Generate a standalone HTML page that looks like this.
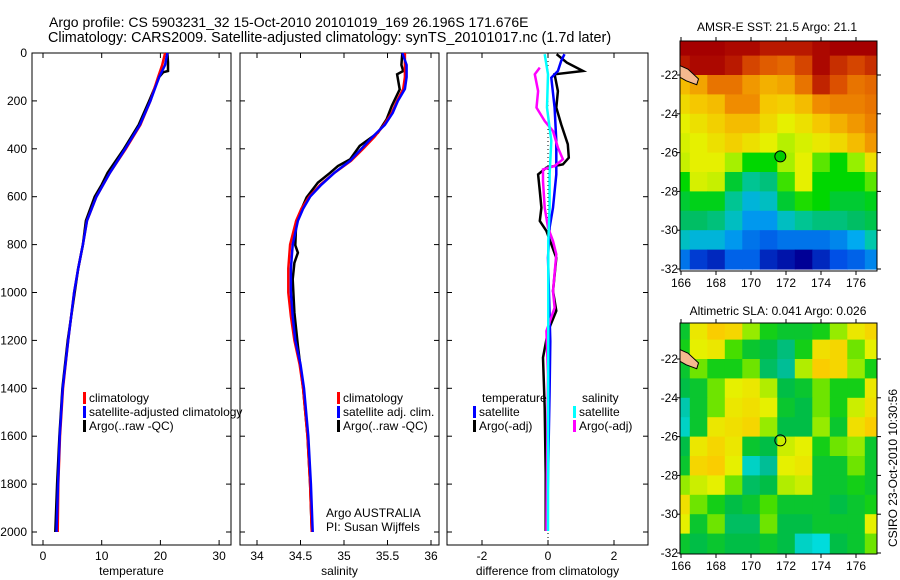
<!DOCTYPE html>
<html><head><meta charset="utf-8"><style>
html,body{margin:0;padding:0;background:#fff;}
svg{display:block;font-family:"Liberation Sans",sans-serif;}
</style></head><body>
<svg id="fig" width="900" height="580" viewBox="0 0 900 580">
<defs>
<clipPath id="clipMap1"><rect x="680" y="41" width="197" height="230"/></clipPath>
<clipPath id="clipMap2"><rect x="680" y="323" width="197" height="231"/></clipPath>
</defs>
<text x="49" y="27" font-size="14">Argo profile: CS 5903231_32 15-Oct-2010 20101019_169 26.196S 171.676E</text>
<text x="48" y="42" font-size="14.4">Climatology: CARS2009. Satellite-adjusted climatology: synTS_20101017.nc (1.7d later)</text>
<text x="777" y="31" font-size="12" text-anchor="middle">AMSR-E SST: 21.5 Argo: 21.1</text>
<text x="778" y="315" font-size="12" text-anchor="middle">Altimetric SLA: 0.041 Argo: 0.026</text>
<text x="0" y="0" font-size="12" text-anchor="middle" transform="translate(897,468) rotate(-90)">CSIRO 23-Oct-2010 10:30:56</text>
<g id="layer"></g>
</svg>
<script>
// ---- profile data ----
const depthT = [0,50,100,200,300,400,500,600,700,800,900,1000,1200,1400,1600,1800,2000];
const tempClim = [20.8,20.3,19.6,18.3,16.6,14.1,11.4,9.1,7.5,6.8,6.0,5.3,4.3,3.4,2.9,2.6,2.5];
const tempSat = [21.2,20.8,19.8,18.3,16.5,14.0,11.4,9.1,7.5,6.8,6.0,5.3,4.3,3.35,2.85,2.55,2.3];
const depthTArgo = [0,40,75,80,100,200,300,400,500,550,600,700,800,900,1000,1200,1400,1600,1800,2000];
const tempArgo = [21.2,21.3,21.3,20.5,19.8,18.1,16.3,13.8,11.0,10.0,8.8,7.3,6.8,6.0,5.4,4.2,3.3,2.8,2.4,2.1];
const depthS = [0,50,100,150,200,250,300,350,400,450,500,550,600,650,700,800,900,1000,1100,1200,1300,1400,1600,1800,2000];
const salClim = [35.70,35.70,35.70,35.68,35.61,35.55,35.46,35.35,35.22,35.08,34.89,34.73,34.60,34.51,34.45,34.38,34.36,34.36,34.39,34.43,34.49,34.53,34.58,34.61,34.63];
const salSat = [35.67,35.72,35.72,35.70,35.62,35.56,35.47,35.33,35.20,35.07,34.89,34.74,34.61,34.53,34.47,34.41,34.39,34.39,34.41,34.44,34.50,34.54,34.59,34.62,34.64];
const depthSArgo = [0,50,75,89,152,221,277,333,388,444,472,500,541,603,653,703,803,834,876,945,1084,1223,1400,1600,1800,2000];
const salArgo = [35.67,35.66,35.68,35.61,35.64,35.55,35.49,35.39,35.18,35.07,34.93,34.84,34.70,34.57,34.51,34.45,34.44,34.47,34.43,34.41,34.43,34.47,34.53,34.58,34.61,34.63];
const depthDTArgo = [5,40,75,89,159,228,298,381,437,465,479,507,576,646,701,743,855,994,1077,1161,1272,1481,1759,1996];
const diffTArgo = [0.26,0.57,1.06,0.2,0.30,0.25,0.40,0.6,0.63,0.45,-0.05,-0.30,-0.25,-0.20,-0.25,-0.05,0.25,0.15,0.25,0,-0.15,-0.1,-0.07,-0.07];
const depthDTSat = [5,33,75,103,228,367,507,646,729,855,1203,1412,1996];
const diffTSat = [0.5,0.4,0.3,0.1,0.2,0.25,0.25,0.15,0.05,0,0.07,0.05,-0.03];
const depthDSSat = [5,89,228,367,507,646,785,1064,1996];
const diffSSat = [-0.1,0,-0.03,0.1,0.05,0.05,0.01,0.01,0];
const depthDSArgo = [61,89,159,228,284,326,395,444,472,486,535,646,729,785,841,994,1064,1161,1342,1996];
const diffSArgo = [-0.25,-0.4,-0.3,-0.35,-0.1,0.15,0.3,0.45,0.2,-0.15,-0.15,-0.1,0,0.15,0.25,0.15,0.2,-0.05,0,-0.05];
const depthTicks = [0,200,400,600,800,1000,1200,1400,1600,1800,2000];
const tempTicks = [0,10,20,30];
const salTicks = [34,34.5,35,35.5,36];
const salTickLabels = ["34","34.5","35","35.5","36"];
const diffTicks = [-2,0,2];
// ---- map data (1-degree cells, rows lat -20..-32, cols lon 166..177) ----
const mapLons = [166,167,168,169,170,171,172,173,174,175,176,177];
const mapLats = [-20.5,-21.5,-22.5,-23.5,-24.5,-25.5,-26.5,-27.5,-28.5,-29.5,-30.5,-31.5];
const sstGrid = [
[24.3,24.3,24.3,24.2,24.2,24.0,24.0,24.0,24.2,24.3,24.3,24.3],
[24.0,24.2,24.2,24.0,23.6,23.4,23.3,23.6,24.2,23.8,23.6,23.8],
[22.6,22.8,23.2,23.2,22.9,22.7,22.8,23.2,23.9,23.5,23.2,23.3],
[22.3,22.5,22.6,23.0,23.0,22.5,22.4,22.6,23.0,23.1,23.1,23.2],
[22.0,22.2,22.4,22.6,22.6,22.3,22.0,22.2,22.5,22.7,22.9,23.1],
[21.9,22.0,22.2,22.4,22.2,22.0,21.7,21.9,22.1,22.3,22.6,22.9],
[21.8,22.0,22.0,21.6,21.0,21.0,21.6,22.0,21.3,21.0,21.5,22.2],
[21.0,21.9,21.8,20.8,20.4,20.5,21.2,22.0,21.0,21.0,21.0,21.3],
[20.8,20.9,20.9,20.4,20.1,20.2,20.8,21.1,21.0,20.8,20.8,20.9],
[20.6,20.6,20.5,20.2,19.9,19.9,20.2,20.4,20.5,20.5,20.6,20.7],
[20.2,20.1,20.1,19.9,19.7,19.6,19.7,19.7,19.7,19.8,20.0,20.3],
[19.7,19.4,19.3,19.6,19.6,19.3,19.2,19.1,19.3,19.5,19.6,19.8]];
const slaGrid = [
[0.01,0.10,0.13,0.12,0.06,0.02,0.01,0.01,0.02,0.06,0.10,0.12],
[0.02,0.09,0.10,0.04,0.01,0.0,-0.02,0.02,0.11,0.12,0.05,0.09],
[0.01,0.05,0.02,0.02,0.05,-0.01,-0.03,0.07,0.13,0.12,0.06,0.02],
[0.0,0.01,0.05,0.09,0.10,0.07,0.0,0.01,0.05,0.02,0.02,0.10],
[-0.04,0.01,0.05,0.10,0.11,0.09,0.01,0.0,0.05,0.02,0.08,0.11],
[-0.05,0.01,0.10,0.11,0.12,0.06,0.0,0.0,0.06,0.01,0.11,0.13],
[0.0,0.10,0.12,0.10,0.01,0.0,0.08,0.09,0.02,0.05,0.06,0.01],
[0.01,0.12,0.13,0.09,-0.05,-0.03,0.09,0.10,0.01,0.01,0.05,0.01],
[0.06,0.08,0.09,0.05,-0.01,0.0,0.07,0.08,0.01,0.01,0.02,0.01],
[0.11,0.05,0.02,0.0,0.01,0.04,0.01,0.01,0.01,0.0,0.01,0.02],
[0.09,0.01,0.05,-0.01,-0.01,0.05,0.0,0.0,0.01,0.01,0.01,0.09],
[0.01,0.0,0.01,0.0,0.0,0.01,0.0,-0.05,-0.06,0.0,0.01,0.05]];
const argoLon = [171.676];
const argoLat = [-26.196];
const lonTicks = [166,168,170,172,174,176];
const latTicks = [-22,-24,-26,-28,-30,-32];
const latTickLabels = ["-22","-24","-26","-28","-30","-32"];

const sstStopV = [19.1,19.5,20.0,20.3,20.6,21.0,21.5,22.0,22.5,23.0,23.5,24.0,24.3];
const sstStopC = [[0,0,150],[0,80,230],[0,170,240],[0,200,170],[0,190,100],[0,215,0],[150,240,0],[230,240,0],[245,200,0],[240,140,0],[220,80,0],[185,25,0],[165,0,0]];
const slaStopV = [-0.06,-0.03,0,0.03,0.06,0.09,0.13];
const slaStopC = [[0,220,220],[0,190,150],[0,190,70],[30,215,0],[150,235,0],[230,240,0],[250,205,0]];

const NS='http://www.w3.org/2000/svg';
const layer=document.getElementById('layer');
function mk(tag,attrs,parent){const e=document.createElementNS(NS,tag);for(const k in attrs)e.setAttribute(k,attrs[k]);(parent||layer).appendChild(e);return e;}
function cmap(v,sv,sc){if(v<=sv[0])return sc[0];for(let i=1;i<sv.length;i++){if(v<=sv[i]){const f=(v-sv[i-1])/(sv[i]-sv[i-1]);return sc[i-1].map((c,k)=>Math.round(c+(sc[i][k]-c)*f));}}return sc[sc.length-1];}

const yD = d => 53 + d*0.2395;
const panels = [
 {name:'temperature', x0:32, x1:231, sx:v=>43+v*5.87, ticks:tempTicks, labels:tempTicks.map(String), xlabel:'temperature'},
 {name:'salinity', x0:240, x1:439, sx:v=>257+(v-34)*87, ticks:salTicks, labels:salTickLabels, xlabel:'salinity'},
 {name:'difference', x0:447, x1:648, sx:v=>548+v*33, ticks:diffTicks, labels:diffTicks.map(String), xlabel:'difference from climatology'}
];
const pTop=53,pBot=545;
panels.forEach((p,pi)=>{
  const g=mk('g',{});
  
  
  const r=mk('rect',{x:p.x0,y:pTop,width:p.x1-p.x0,height:pBot-pTop,fill:'none',stroke:'#000','stroke-width':1},g);
  
  
  p.ticks.forEach((t,i)=>{
    const x=p.sx(t);
    mk('line',{x1:x,x2:x,y1:pTop,y2:pTop+5,stroke:'#000'},g);
    mk('line',{x1:x,x2:x,y1:pBot,y2:pBot-5,stroke:'#000'},g);
    const tl=mk('text',{x:x,y:560,'font-size':12,'text-anchor':'middle'},g);
    tl.textContent=p.labels[i];
    
    
  });
  depthTicks.forEach(d=>{
    const y=yD(d);
    mk('line',{x1:p.x0,x2:p.x0+5,y1:y,y2:y,stroke:'#000'},g);
    mk('line',{x1:p.x1,x2:p.x1-5,y1:y,y2:y,stroke:'#000'},g);
    if(pi===0){const t=mk('text',{x:27,y:y+4,'font-size':12,'text-anchor':'end'},g);t.textContent=String(d);
      
      }
  });
  const xl=mk('text',{x:(p.x0+p.x1)/2,y:575,'font-size':12,'text-anchor':'middle'},g);
  xl.textContent=p.xlabel;
  
  
});
function series(p,depths,vals,color,name,w){
  const pts=depths.map((d,i)=>p.sx(vals[i]).toFixed(1)+','+yD(d).toFixed(1)).join(' ');
  const l=mk('polyline',{points:pts,fill:'none',stroke:color,'stroke-width':w||2.5,'stroke-linejoin':'miter'});
  
  
}
const zl=mk('line',{x1:panels[2].sx(0),x2:panels[2].sx(0),y1:pTop,y2:pBot,stroke:'#000','stroke-dasharray':'1,3'});


series(panels[0],depthTArgo,tempArgo,'#000','temp-argo-line');
series(panels[0],depthT,tempClim,'#f00','temp-climatology-line');
series(panels[0],depthT,tempSat,'#00f','temp-satellite-line');
series(panels[1],depthSArgo,salArgo,'#000','sal-argo-line');
series(panels[1],depthS,salClim,'#f00','sal-climatology-line');
series(panels[1],depthS,salSat,'#00f','sal-satellite-line');
series(panels[2],depthDTArgo,diffTArgo,'#000','diff-temp-argo-line');
series(panels[2],depthDTSat,diffTSat,'#00f','diff-temp-satellite-line');
series(panels[2],depthDSArgo,diffSArgo,'#f0f','diff-sal-argo-line');
series(panels[2],depthDSSat,diffSSat,'#0ff','diff-sal-satellite-line');

function legend(x,y,color,label,name){
  if(color){const m=mk('rect',{x:x,y:y-10,width:3,height:12,fill:color});
    
    }
  const t=mk('text',{x:x+6,y:y,'font-size':12});t.textContent=label;
  
  
}
legend(83,402,'#f00','climatology','legend-climatology');
legend(83,416,'#00f','satellite-adjusted climatology','legend-satellite-adjusted');
legend(83,430,'#000','Argo(..raw -QC)','legend-argo-raw');
legend(337,402,'#f00','climatology','legend-sal-climatology');
legend(337,416,'#00f','satellite adj. clim.','legend-sal-satellite');
legend(337,430,'#000','Argo(..raw -QC)','legend-sal-argo');
legend(476,402,null,'temperature','legend-temperature-heading');
legend(473,416,'#00f','satellite','legend-diff-temp-satellite');
legend(473,430,'#000','Argo(-adj)','legend-diff-temp-argo');
legend(576,402,null,'salinity','legend-salinity-heading');
legend(573,416,'#0ff','satellite','legend-diff-sal-satellite');
legend(573,430,'#f0f','Argo(-adj)','legend-diff-sal-argo');
const a1=mk('text',{x:326,y:517,'font-size':12});a1.textContent='Argo AUSTRALIA';


const a2=mk('text',{x:326,y:531,'font-size':12});a2.textContent='PI: Susan Wijffels';



const maps=[
 {name:'sst-map',grid:sstGrid,sv:sstStopV,sc:sstStopC,mTop:41,mBot:271,y22:75,clip:'url(#clipMap1)',circle:'#00cc00'},
 {name:'sla-map',grid:slaGrid,sv:slaStopV,sc:slaStopC,mTop:323,mBot:554,y22:359,clip:'url(#clipMap2)',circle:'none'}
];
const mx0=680,mx1=877;
const xL = lon => 681+(lon-166)*17.5;
maps.forEach(m=>{
  const yL = lat => m.y22+(-22-lat)*19.4;
  const g=mk('g',{'clip-path':m.clip});
  
  
  m.grid.forEach((row,j)=>row.forEach((v,i)=>{
    const c=cmap(v,m.sv,m.sc);
    const x=xL(mapLons[i]-0.5), y=yL(mapLats[j]+0.5);
    const cell=mk('rect',{x:x.toFixed(1),y:y.toFixed(1),width:18,height:20,fill:`rgb(${c[0]},${c[1]},${c[2]})`},g);
    
    
  }));
  const land=mk('polygon',{points:`${xL(165.9)},${yL(-21.5)} ${xL(166.4)},${yL(-21.7)} ${xL(167.0)},${yL(-22.2)} ${xL(166.9)},${yL(-22.5)} ${xL(166.3)},${yL(-22.3)} ${xL(165.9)},${yL(-22.1)}`,fill:'#f5b98f',stroke:'#000','stroke-width':1},g);
  
  
  const box=mk('rect',{x:mx0,y:m.mTop,width:mx1-mx0,height:m.mBot-m.mTop,fill:'none',stroke:'#000'});
  
  
  lonTicks.forEach(lon=>{
    const x=xL(lon);
    mk('line',{x1:x,x2:x,y1:m.mTop,y2:m.mTop-4,stroke:'#000'});
    mk('line',{x1:x,x2:x,y1:m.mBot,y2:m.mBot+4,stroke:'#000'});
    const t=mk('text',{x:x,y:m.mBot+16,'font-size':12,'text-anchor':'middle'});t.textContent=String(lon);
    
    
  });
  latTicks.forEach((lat,i)=>{
    const y=yL(lat);
    mk('line',{x1:mx0,x2:mx0-3,y1:y,y2:y,stroke:'#000'});
    mk('line',{x1:mx1,x2:mx1+4,y1:y,y2:y,stroke:'#000'});
    const t=mk('text',{x:678,y:y+4,'font-size':12,'text-anchor':'end'});t.textContent=latTickLabels[i];
    
    
  });
  const c=mk('circle',{cx:xL(argoLon[0]),cy:yL(argoLat[0]),r:5.5,fill:m.circle,stroke:'#000','stroke-width':1});
  
  
});
</script>
</body></html>
